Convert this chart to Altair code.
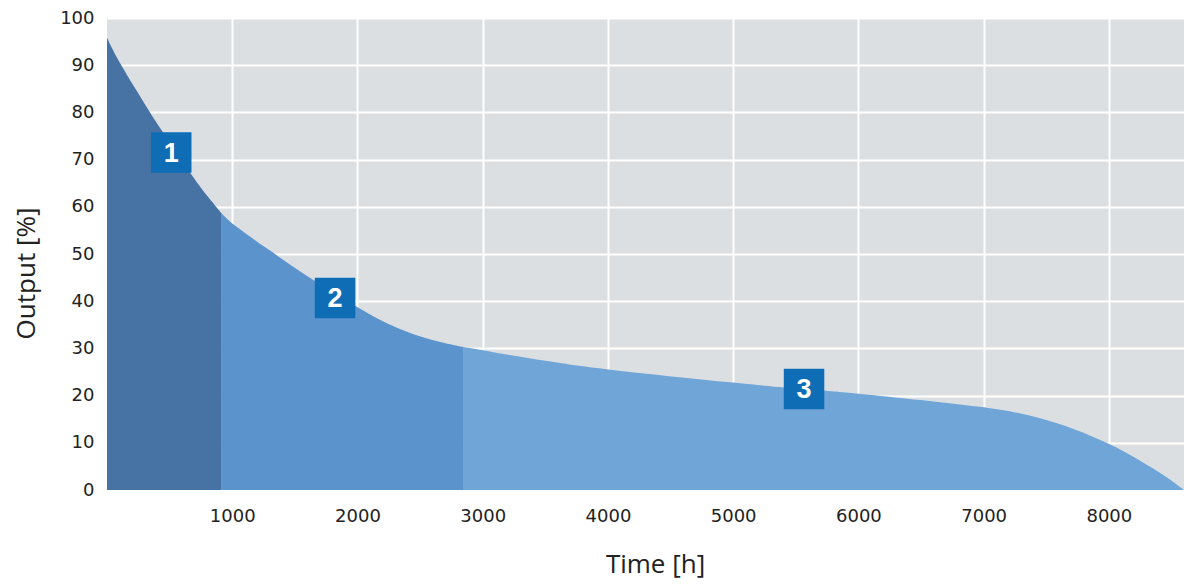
import altair as alt
import pandas as pd

# curve: operating hours vs. remaining output
hours = [0, 90, 325, 383, 663, 822, 916, 1009, 1275, 1541, 1661, 2073, 2340, 2603,
         2843, 3082, 3537, 3937, 5127, 5398, 5725, 6037, 7059, 7450, 7714, 8001,
         8249, 8462, 8600]
output = [95.8, 90.8, 80.8, 78.3, 67.1, 61.5, 58.6, 56.1, 51.2, 46.3, 44.3, 37.4,
          33.9, 31.6, 30.3, 29.2, 27.2, 25.6, 22.4, 21.7, 21.1, 20.3, 17.6, 15.4,
          13.1, 9.9, 6.3, 2.8, 0]

phase_names = ["1", "2", "3"]
phase_bounds = [0, 916, 2843, 8600]
phase_colors = ["#4672a4", "#5b93cd", "#70a5d8"]

box_hours = [513, 1821, 5566]
box_output = [71.5, 40.7, 21.4]

x_ticks = [1000, 2000, 3000, 4000, 5000, 6000, 7000, 8000]
y_ticks = [0, 10, 20, 30, 40, 50, 60, 70, 80, 90, 100]


def build_curve_df():
    rows = []
    for name, lo, hi in zip(phase_names, phase_bounds[:-1], phase_bounds[1:]):
        for h, v in zip(hours, output):
            if lo <= h <= hi:
                rows.append({"hours": h, "output": v, "phase": name})
    return pd.DataFrame(rows)


def draw_chart():
    curve_df = build_curve_df()
    box_df = pd.DataFrame({"hours": box_hours, "output": box_output, "label": phase_names})

    x = alt.X("hours:Q", title="Time [h]",
              scale=alt.Scale(domain=[0, 8600], nice=False, zero=False),
              axis=alt.Axis(values=x_ticks, format="d", labelPadding=17,
                            titlePadding=26, titleX=548))
    y = alt.Y("output:Q", title="Output [%]", stack=None,
              scale=alt.Scale(domain=[0, 100], nice=False),
              axis=alt.Axis(values=y_ticks, format="d", labelPadding=13,
                            titlePadding=20, titleY=255))

    area = alt.Chart(curve_df).mark_area(interpolate="basis", opacity=1).encode(
        x=x,
        y=y,
        color=alt.Color("phase:N", legend=None,
                        scale=alt.Scale(domain=phase_names, range=phase_colors)),
    )

    boxes = alt.Chart(box_df).mark_square(size=1640, color="#0f6db5", opacity=1).encode(
        x="hours:Q", y="output:Q"
    )
    numbers = alt.Chart(box_df).mark_text(
        color="white", font="Liberation Sans", fontWeight="bold", fontSize=27,
        align="center", baseline="middle", dy=1
    ).encode(x="hours:Q", y="output:Q", text="label:N")

    chart = (area + boxes + numbers).properties(
        width=1077,
        height=472,
        autosize=alt.AutoSizeParams(type="none"),
        padding={"left": 99, "top": 10, "right": 5, "bottom": 92},
        background="white",
    ).configure_view(
        fill="#dcdfe2", strokeWidth=0
    ).configure_axis(
        domain=False, ticks=False, tickSize=0,
        grid=True, gridColor="white", gridWidth=2, gridOpacity=1,
        labelFont="DejaVu Sans", labelFontSize=18, labelColor="#222222",
        titleFont="Open Sans", titleFontSize=26, titleFontWeight="normal",
        titleColor="#222222",
    )
    return chart


def main():
    chart = draw_chart()
    chart.save("out.html", embed_options={"renderer": "svg", "actions": False})


if __name__ == "__main__":
    main()
